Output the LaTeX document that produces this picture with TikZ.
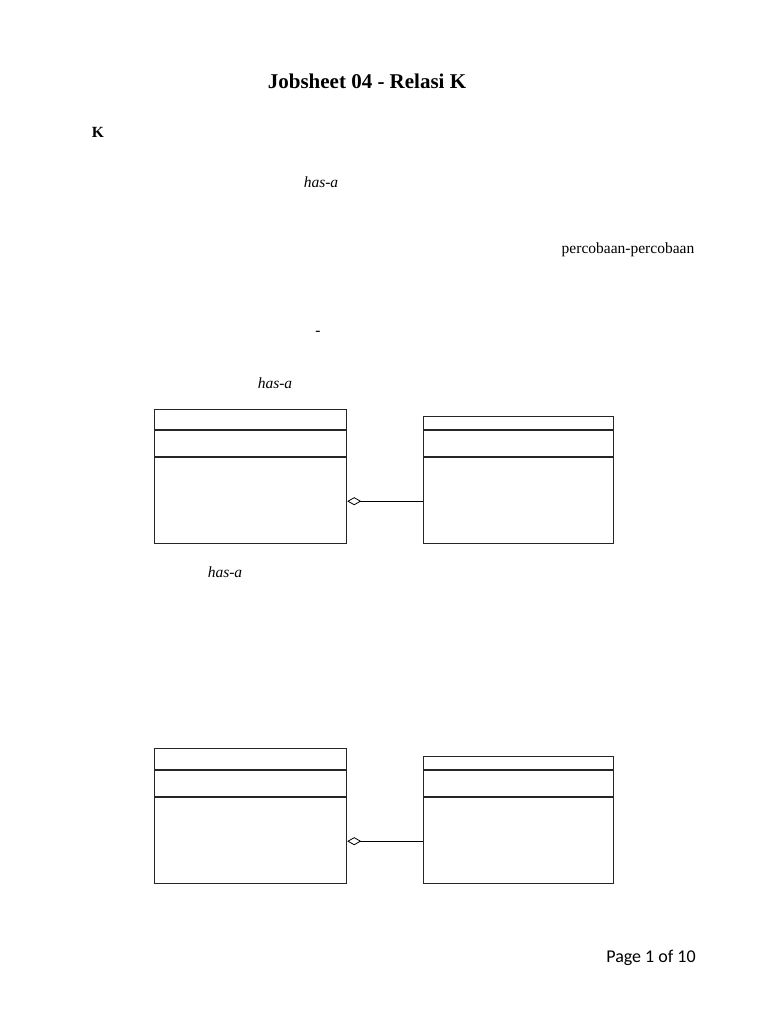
\documentclass[tikz,border=0pt]{standalone}
\usepackage{fontspec}
\setmainfont{Liberation Serif}
\newfontfamily\pagefont{Carlito}
\usepackage{tikz}
\usetikzlibrary{arrows.meta,positioning}
\tikzset{
teks/.style = {inner sep=0pt, font=\fontsize{15.5}{18}\selectfont},% teks biasa
judul/.style = {inner sep=0pt, font=\fontsize{21}{25}\selectfont\bfseries},% judul halaman
kelas/.style = {rectangle, draw=black!85, line width=1.2pt, inner sep=0pt, anchor=north west, minimum width=192pt},% kotak kelas UML
sekat/.style = {draw=black!85, line width=1.1pt},% garis pemisah atribut / method
agregasi/.style = {draw=black, line width=0.8pt, {Diamond[open,length=14pt,width=8pt]}-}% relasi has-a
}
\begin{document}
\begin{tikzpicture}[x=1pt,y=-1pt]
	\fill[white] (0,0) rectangle (768,1024);
	\useasboundingbox (0,0) rectangle (768,1024);
	% teks
	\node [judul] (jdl) at (367,81) {Jobsheet 04 - Relasi K};
	\node [teks,font=\fontsize{15.5}{18}\selectfont\bfseries] (k) at (98,132) {K};
	\node [teks,font=\fontsize{15.5}{18}\selectfont\itshape] (has1) at (321,182) {has-a};
	\node [teks] (prc) at (628,250) {percobaan-percobaan};
	\node [teks] (strip) at (318,333) {-};
	\node [teks,font=\fontsize{15.5}{18}\selectfont\itshape] (has2) at (275,383) {has-a};
	\node [teks,font=\fontsize{15.5}{18}\selectfont\itshape] (has3) at (225,572) {has-a};
	\node [inner sep=0pt, font=\pagefont\fontsize{18}{21}\selectfont] (hal) at (651,958) {Page 1 of 10};
	% diagram 1
	\node [kelas, minimum height=134pt] (k1) at (154,409) {};
	\node [kelas, minimum width=190pt, minimum height=127pt] (k2) at (423,416) {};
	\draw [sekat] ([yshift=-21pt]k1.north west) -- ([yshift=-21pt]k1.north east);
	\draw [sekat] ([yshift=-48pt]k1.north west) -- ([yshift=-48pt]k1.north east);
	\draw [sekat] ([yshift=-14pt]k2.north west) -- ([yshift=-14pt]k2.north east);
	\draw [sekat] ([yshift=-41pt]k2.north west) -- ([yshift=-41pt]k2.north east);
	\draw [agregasi] ([yshift=43pt]k1.south east) -- ([yshift=43pt]k2.south west);
	% diagram 2
	\node [kelas, minimum height=135pt] (k3) at (154,748) {};
	\node [kelas, minimum width=190pt, minimum height=127pt] (k4) at (423,756) {};
	\draw [sekat] ([yshift=-22pt]k3.north west) -- ([yshift=-22pt]k3.north east);
	\draw [sekat] ([yshift=-49pt]k3.north west) -- ([yshift=-49pt]k3.north east);
	\draw [sekat] ([yshift=-14pt]k4.north west) -- ([yshift=-14pt]k4.north east);
	\draw [sekat] ([yshift=-41pt]k4.north west) -- ([yshift=-41pt]k4.north east);
	\draw [agregasi] ([yshift=43pt]k3.south east) -- ([yshift=43pt]k4.south west);
\end{tikzpicture}
\end{document}
